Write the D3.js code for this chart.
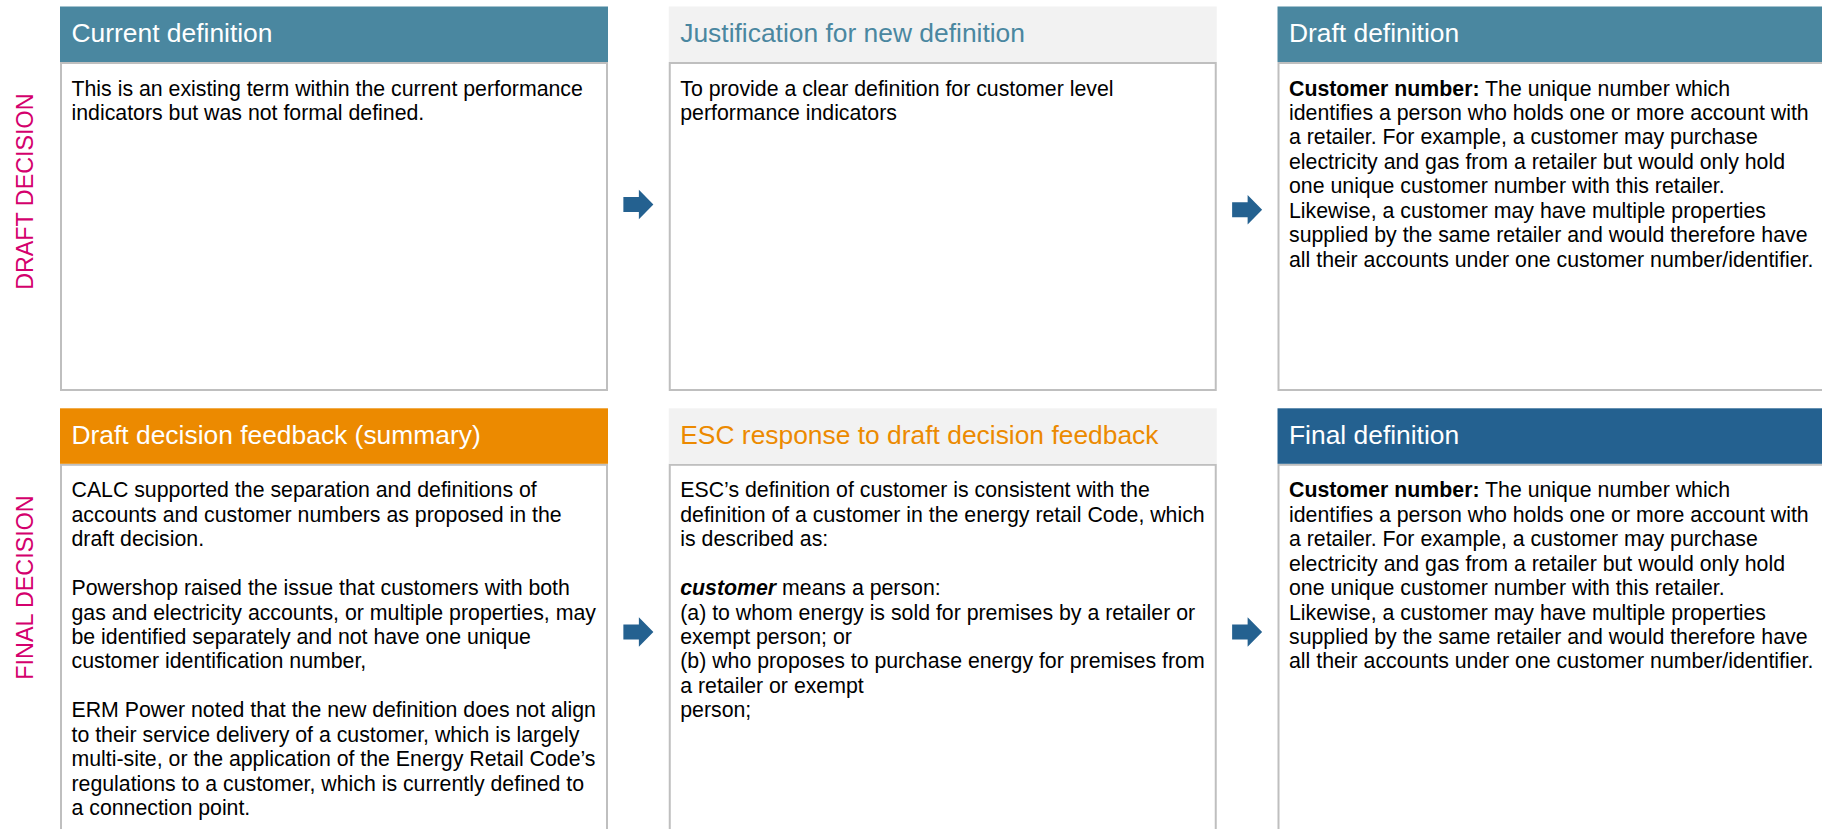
<!DOCTYPE html>
<html>
<head>
<meta charset="utf-8">
<script src="https://cdn.jsdelivr.net/npm/d3@7/dist/d3.min.js"></script>
<style>
  html, body { margin: 0; padding: 0; background: #ffffff; overflow: hidden; }
  svg { display: block; }
  text { font-family: "Liberation Sans", Arial, Helvetica, sans-serif; }
</style>
</head>
<body>
<script>
// ---- data ----
const columns = ["c1", "c2", "c3"];
const rows = ["draft", "final"];
const rowLabels = ["DRAFT DECISION", "FINAL DECISION"];

const headerTitles = [
  ["Current definition", "Justification for new definition", "Draft definition"],
  ["Draft decision feedback (summary)", "ESC response to draft decision feedback", "Final definition"]
];
const headerFills = [
  ["#4a87a0", "#f2f2f2", "#4a87a0"],
  ["#ec8a00", "#f2f2f2", "#246190"]
];
const headerTextColors = [
  ["#ffffff", "#4a87a0", "#ffffff"],
  ["#ffffff", "#ec8a00", "#ffffff"]
];

// body lines: each line is a list of runs [text, style] (style: "", "b", "bi")
const definitionLines = [
  [["Customer number:", "b"], [" The unique number which", ""]],
  [["identifies a person who holds one or more account with", ""]],
  [["a retailer. For example, a customer may purchase", ""]],
  [["electricity and gas from a retailer but would only hold", ""]],
  [["one unique customer number with this retailer.", ""]],
  [["Likewise, a customer may have multiple properties", ""]],
  [["supplied by the same retailer and would therefore have", ""]],
  [["all their accounts under one customer number/identifier.", ""]]
];
const bodyLines = [
  [
    [
      [["This is an existing term within the current performance", ""]],
      [["indicators but was not formal defined.", ""]]
    ],
    [
      [["To provide a clear definition for customer level", ""]],
      [["performance indicators", ""]]
    ],
    definitionLines
  ],
  [
    [
      [["CALC supported the separation and definitions of", ""]],
      [["accounts and customer numbers as proposed in the", ""]],
      [["draft decision.", ""]],
      [],
      [["Powershop raised the issue that customers with both", ""]],
      [["gas and electricity accounts, or multiple properties, may", ""]],
      [["be identified separately and not have one unique", ""]],
      [["customer identification number,", ""]],
      [],
      [["ERM Power noted that the new definition does not align", ""]],
      [["to their service delivery of a customer, which is largely", ""]],
      [["multi-site, or the application of the Energy Retail Code\u2019s", ""]],
      [["regulations to a customer, which is currently defined to", ""]],
      [["a connection point.", ""]]
    ],
    [
      [["ESC\u2019s definition of customer is consistent with the", ""]],
      [["definition of a customer in the energy retail Code, which", ""]],
      [["is described as:", ""]],
      [],
      [["customer", "bi"], [" means a person:", ""]],
      [["(a) to whom energy is sold for premises by a retailer or", ""]],
      [["exempt person; or", ""]],
      [["(b) who proposes to purchase energy for premises from", ""]],
      [["a retailer or exempt", ""]],
      [["person;", ""]]
    ],
    definitionLines
  ]
];
// arrow vertical centres (between columns) per row
const arrowCentres = [[204.5, 209.7], [632, 632]];

// ---- layout ----
const W = 1822, H = 829;
const svg = d3.select("body").append("svg").attr("width", W).attr("height", H);

const x = d3.scaleBand().domain(columns).range([60, 1825.5]).paddingInner(0.0998).paddingOuter(0);
const rowTop = d3.scaleOrdinal().domain(rows).range([6.5, 408.3]);
const rowBottom = d3.scaleOrdinal().domain(rows).range([390, 850]);
const headerH = 55.5;
const lineH = 24.45;
const bw = x.bandwidth();

const colour = {
  border: "#bfbfbf",
  arrow: "#246190",
  label: "#d4006d",
  text: "#000000"
};

rows.forEach((r, ri) => {
  const top = rowTop(r);
  const bottom = rowBottom(r);
  const g = svg.append("g");

  // row label
  const ly = ri === 0 ? 191.7 : 587.5;
  g.append("text")
    .attr("transform", `translate(33,${ly}) rotate(-90)`)
    .attr("text-anchor", "middle")
    .attr("font-size", 23.3)
    .attr("fill", colour.label)
    .text(rowLabels[ri]);

  columns.forEach((c, ci) => {
    const x0 = x(c);
    // body box
    g.append("rect")
      .attr("x", x0 + 1).attr("y", top + headerH + 1)
      .attr("width", bw - 2).attr("height", bottom - top - headerH - 1)
      .attr("fill", "#ffffff")
      .attr("stroke", colour.border).attr("stroke-width", 2);
    // header
    g.append("rect")
      .attr("x", x0).attr("y", top)
      .attr("width", bw).attr("height", headerH)
      .attr("fill", headerFills[ri][ci]);
    g.append("text")
      .attr("x", x0 + 11.5).attr("y", top + 35.3)
      .attr("font-size", 26.4)
      .attr("fill", headerTextColors[ri][ci])
      .text(headerTitles[ri][ci]);

    // body text
    const t = g.append("text")
      .attr("font-size", 21.3)
      .attr("fill", colour.text);
    bodyLines[ri][ci].forEach((line, li) => {
      const yb = top + 89 + li * lineH;
      line.forEach((run, k) => {
        const ts = t.append("tspan").text(run[0]);
        if (k === 0) ts.attr("x", x0 + 11.5).attr("y", yb);
        if (run[1].includes("b")) ts.attr("font-weight", "bold");
        if (run[1].includes("i")) ts.attr("font-style", "italic");
      });
    });
  });

  // arrows between columns
  for (let k = 0; k < columns.length - 1; k++) {
    const right = x(columns[k]) + bw;
    const left = x(columns[k + 1]);
    const ax = right + (left - right) / 2 - 15;
    const cy = arrowCentres[ri][k];
    const shaftH = 15, headH = 29.5, shaftW = 15.5, headW = 14.5;
    const p = d3.path();
    p.moveTo(ax, cy - shaftH / 2);
    p.lineTo(ax + shaftW, cy - shaftH / 2);
    p.lineTo(ax + shaftW, cy - headH / 2);
    p.lineTo(ax + shaftW + headW, cy);
    p.lineTo(ax + shaftW, cy + headH / 2);
    p.lineTo(ax + shaftW, cy + shaftH / 2);
    p.lineTo(ax, cy + shaftH / 2);
    p.closePath();
    g.append("path").attr("d", p.toString()).attr("fill", colour.arrow);
  }
});
</script>
</body>
</html>
